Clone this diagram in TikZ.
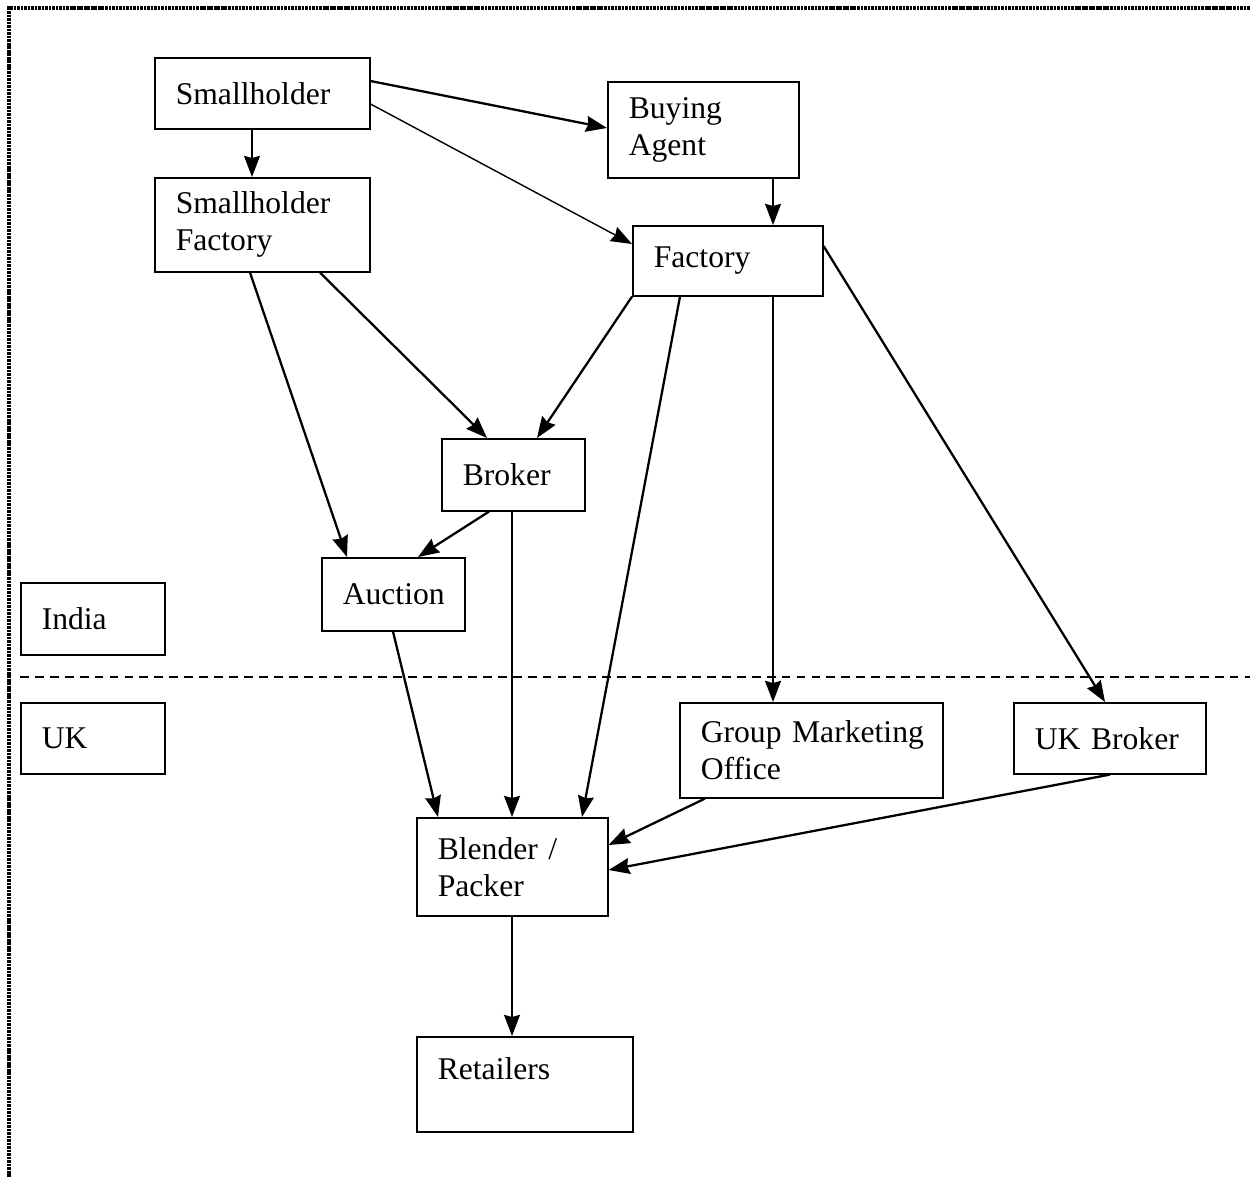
\documentclass[tikz,border=0pt]{standalone}
\usepackage{fontspec}
\setmainfont{Liberation Serif}
\usetikzlibrary{arrows.meta, calc}

\begin{document}
\begin{tikzpicture}[x=0.02cm, y=-0.02cm,
    box/.style={draw, line width=0.9pt, anchor=north west, align=left,
        inner xsep=0.42cm, inner ysep=0pt, font=\fontsize{18}{21}\selectfont},
    arr/.style={-{Stealth[length=12pt, width=9pt, inset=1.2pt]}, line width=1.3pt},
    thinarr/.style={arr, line width=0.8pt}]
    \useasboundingbox (0,0) rectangle (1250,1177);
    % frame
    \draw[line width=1.8pt, dash pattern=on 1.5pt off 0.5pt] (9,1177) -- (9,8) -- (1250,8);
    % India / UK divide
    \coordinate (divl) at (20,677);
    \coordinate (divr) at (1250,677);
    \draw[line width=1.6pt, dash pattern=on 5pt off 3.5pt] (divl) -- (divr);
    % boxes
    \node[box, text width=3.46cm, minimum height=1.42cm] (sh) at (154,57) {Smallholder};
    \node[box, text width=3.46cm, minimum height=1.88cm] (sf) at (154,177) {Smallholder\\Factory};
    \node[box, text width=2.98cm, minimum height=1.92cm] (ba) at (607,81) {Buying\\Agent};
    \node[box, text width=2.96cm, minimum height=1.40cm] (fac) at (632,225) {Factory};
    \node[box, text width=2.02cm, minimum height=1.44cm] (brk) at (441,438) {Broker};
    \node[box, text width=2.02cm, minimum height=1.46cm] (auc) at (321,557) {Auction};
    \node[box, text width=2.04cm, minimum height=1.44cm] (india) at (20,582) {India};
    \node[box, text width=2.04cm, minimum height=1.42cm] (uk) at (20,702) {UK};
    \node[box, text width=4.42cm, minimum height=1.90cm] (gmo) at (679,702) {\mbox{Group Marketing}\\Office};
    \node[box, text width=3.00cm, minimum height=1.42cm] (ukb) at (1013,702) {UK Broker};
    \node[box, text width=2.98cm, minimum height=1.96cm] (bp) at (416,817) {Blender /\\Packer};
    \node[box, text width=3.48cm, text height=0.86cm, text depth=1.04cm] (ret) at (416,1036) {Retailers};
    % arrows
    \draw[arr] ($(sh.south west)+(98,0)$) -- ($(sf.north west)+(98,0)$);
    \draw[arr] ($(sh.north east)+(0,24)$) -- ($(ba.north west)+(0,47)$);
    \draw[thinarr] ($(sh.north east)+(0,47)$) -- ($(fac.north west)+(0,19)$);
    \draw[arr] ($(ba.south west)+(166,0)$) -- ($(fac.north west)+(141,0)$);
    \draw[arr] ($(sf.south west)+(96,0)$) -- ($(auc.north west)+(26,0)$);
    \draw[arr] ($(sf.south west)+(166,0)$) -- ($(brk.north west)+(46,0)$);
    \draw[arr] (fac.south west) -- ($(brk.north west)+(96,0)$);
    \draw[arr] ($(fac.south west)+(48,0)$) -- ($(bp.north west)+(166,0)$);
    \draw[arr] ($(fac.south west)+(141,0)$) -- ($(gmo.north west)+(94,0)$);
    \draw[arr] ($(fac.north east)+(0,21)$) -- ($(ukb.north west)+(92,0)$);
    \draw[arr] ($(brk.south west)+(48,0)$) -- ($(auc.north west)+(97,0)$);
    \draw[arr] ($(brk.south west)+(71,0)$) -- ($(bp.north west)+(96,0)$);
    \draw[arr] ($(auc.south west)+(72,0)$) -- ($(bp.north west)+(22,0)$);
    \draw[arr] ($(gmo.south west)+(26,0)$) -- ($(bp.north east)+(0,28)$);
    \draw[arr] ($(ukb.south west)+(97,0)$) -- ($(bp.north east)+(0,53)$);
    \draw[arr] ($(bp.south west)+(96,0)$) -- ($(ret.north west)+(96,0)$);
\end{tikzpicture}
\end{document}
